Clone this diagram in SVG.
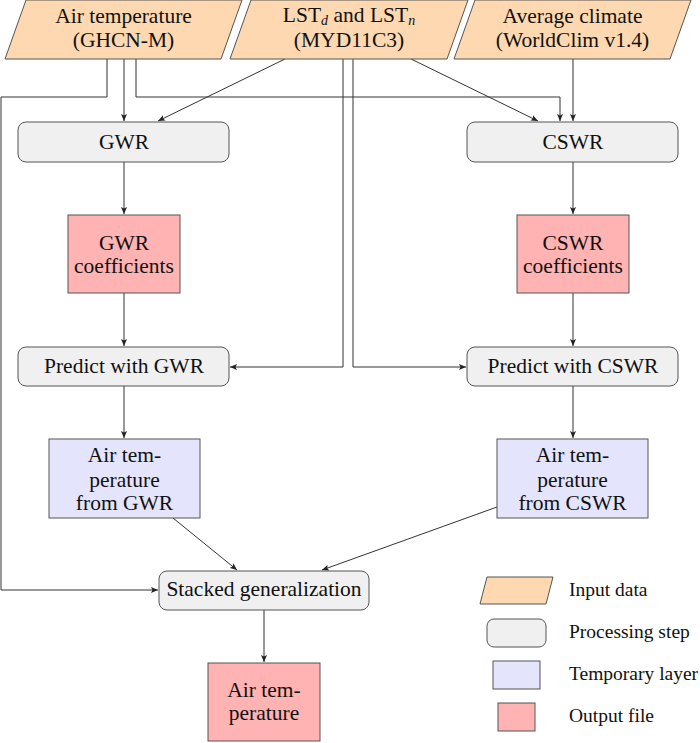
<svg xmlns="http://www.w3.org/2000/svg" width="700" height="743" viewBox="0 0 700 743" font-family="'Liberation Serif', 'Times New Roman', Times, 'DejaVu Serif', serif">
<style>
text{font-family:'Liberation Serif','Times New Roman',Times,'DejaVu Serif',serif;font-size:21.5px;fill:#111;text-anchor:middle}
.leg{font-size:19.5px;text-anchor:start}
.sub{font-style:italic;font-size:14px}
.inp{fill:#FDD8B0;stroke:#555;stroke-width:1}
.proc{fill:#F0F0F0;stroke:#555;stroke-width:1}
.tmp{fill:#E4E4FC;stroke:#555;stroke-width:1}
.out{fill:#FFB3B3;stroke:#555;stroke-width:1}
.c{fill:none;stroke:#333;stroke-width:1}
.a{marker-end:url(#ah)}
</style>
<defs>
<marker id="ah" markerWidth="8" markerHeight="6" refX="7" refY="3" orient="auto" markerUnits="userSpaceOnUse">
<path d="M0,0 L7,3 L0,6 L1.5,3 z" fill="#222"/>
</marker>
</defs>
<rect width="700" height="743" fill="#fff"/>
<g id="connectors">
<path class="c" d="M107,59 V97 H1 V590"/>
<path class="c a" d="M1,590 H158"/>
<path class="c a" d="M124,59 V121"/>
<path class="c a" d="M136,59 V97 H560 V121"/>
<path class="c a" d="M573,59 V121"/>
<path class="c a" d="M285,59 L158,121"/>
<path class="c a" d="M411,59 L538,121"/>
<path class="c a" d="M343,59 V367 H230"/>
<path class="c a" d="M353,59 V367 H466"/>
<path class="c a" d="M124,162 V214"/>
<path class="c a" d="M124,293 V346"/>
<path class="c a" d="M124,386 V438"/>
<path class="c a" d="M573,162 V214"/>
<path class="c a" d="M573,293 V346"/>
<path class="c a" d="M573,386 V438"/>
<path class="c a" d="M173,518 L237,570"/>
<path class="c a" d="M497,507 L322,570"/>
<path class="c a" d="M264,610 V662"/>
</g>
<g id="air-temperature-input">
<polygon class="inp" points="26,0 242,0 221,59 5,59"/>
<text x="123.5" y="23">Air temperature</text>
<text x="123.5" y="47">(GHCN-M)</text>
</g>
<g id="lst-input">
<polygon class="inp" points="251,0 468,0 447,59 230,59"/>
<text x="349" y="22">LST<tspan class="sub" dy="3">d</tspan><tspan dy="-3"> and LST</tspan><tspan class="sub" dy="3">n</tspan></text>
<text x="349" y="47">(MYD11C3)</text>
</g>
<g id="worldclim-input">
<polygon class="inp" points="475,0 691,0 670,59 454,59"/>
<text x="572.5" y="23">Average climate</text>
<text x="572.5" y="47">(WorldClim v1.4)</text>
</g>
<g id="gwr">
<rect class="proc" x="18" y="122" width="211" height="40" rx="8"/>
<text x="124" y="149">GWR</text>
</g>
<g id="cswr">
<rect class="proc" x="467" y="122" width="211" height="40" rx="8"/>
<text x="573" y="149">CSWR</text>
</g>
<g id="gwr-coefficients">
<rect class="out" x="68" y="215" width="112" height="78"/>
<text x="124" y="250">GWR</text>
<text x="124" y="273">coefficients</text>
</g>
<g id="cswr-coefficients">
<rect class="out" x="517" y="215" width="112" height="78"/>
<text x="573" y="250">CSWR</text>
<text x="573" y="273">coefficients</text>
</g>
<g id="predict-gwr">
<rect class="proc" x="18" y="347" width="211" height="39" rx="8"/>
<text x="124" y="373">Predict with GWR</text>
</g>
<g id="predict-cswr">
<rect class="proc" x="467" y="347" width="211" height="39" rx="8"/>
<text x="573" y="373">Predict with CSWR</text>
</g>
<g id="air-temp-gwr">
<rect class="tmp" x="49" y="439" width="151" height="79"/>
<text x="124.5" y="462">Air tem-</text>
<text x="124.5" y="487">perature</text>
<text x="124.5" y="510">from GWR</text>
</g>
<g id="air-temp-cswr">
<rect class="tmp" x="497" y="439" width="151" height="79"/>
<text x="572.5" y="462">Air tem-</text>
<text x="572.5" y="487">perature</text>
<text x="572.5" y="510">from CSWR</text>
</g>
<g id="stacked-generalization">
<rect class="proc" x="159" y="571" width="210" height="39" rx="8"/>
<text x="264" y="596">Stacked generalization</text>
</g>
<g id="air-temperature-output">
<rect class="out" x="208" y="663" width="112" height="78"/>
<text x="264" y="697">Air tem-</text>
<text x="264" y="720">perature</text>
</g>
<g id="legend">
<polygon class="inp" points="487,577 553,577 546,604 480,604"/>
<text class="leg" x="569" y="596">Input data</text>
<rect class="proc" x="487" y="619" width="59" height="28" rx="7"/>
<text class="leg" x="569" y="638">Processing step</text>
<rect class="tmp" x="493" y="661" width="47" height="28"/>
<text class="leg" x="569" y="680">Temporary layer</text>
<rect class="out" x="498" y="703" width="37" height="28"/>
<text class="leg" x="569" y="722">Output file</text>
</g>
</svg>
